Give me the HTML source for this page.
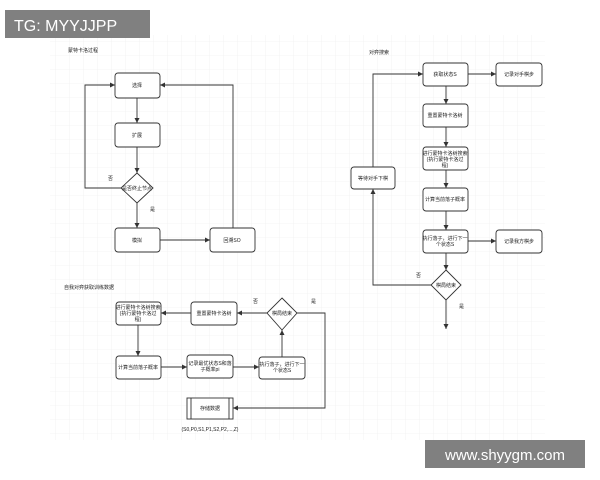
<!DOCTYPE html>
<html><head><meta charset="utf-8"><style>
html,body{margin:0;padding:0;background:#fff;width:600px;height:480px;overflow:hidden}
svg{position:absolute;left:0;top:0}
text{font-family:"Liberation Sans","Noto Sans CJK SC",sans-serif;font-size:5px;fill:#222}
.b{fill:#fff;stroke:#333;stroke-width:0.9}
.l{stroke:#333;stroke-width:0.9;fill:none}
</style></head><body>
<svg width="600" height="480" viewBox="0 0 600 480">
<defs>
<pattern id="g" width="14" height="14" patternUnits="userSpaceOnUse"><path d="M14 0V14H0" fill="none" stroke="#ececec" stroke-width="0.6"/></pattern>
<marker id="a" markerWidth="6" markerHeight="6" refX="5" refY="3" orient="auto" markerUnits="userSpaceOnUse"><path d="M0,0.5L5,3L0,5.5z" fill="#333"/></marker>
</defs>
<rect x="50" y="35" width="495" height="405" fill="url(#g)"/>
<!-- D1 -->
<text x="68" y="52">蒙特卡洛过程</text>
<rect class="b" x="115" y="73" width="45" height="25" rx="3"/><text x="137" y="87" text-anchor="middle">选择</text>
<rect class="b" x="115" y="123" width="45" height="24" rx="3"/><text x="137" y="137" text-anchor="middle">扩展</text>
<path class="b" d="M137,173L153,188L137,203L121,188z"/><text x="137" y="190" text-anchor="middle">是否终止节点</text>
<rect class="b" x="115" y="228" width="45" height="24" rx="3"/><text x="137" y="242" text-anchor="middle">模拟</text>
<rect class="b" x="210" y="228" width="45" height="24" rx="3"/><text x="232" y="242" text-anchor="middle">回溯SO</text>
<path class="l" marker-end="url(#a)" d="M137,98V123"/>
<path class="l" marker-end="url(#a)" d="M137,147V173"/>
<path class="l" marker-end="url(#a)" d="M137,203V228"/>
<path class="l" marker-end="url(#a)" d="M160,240H210"/>
<path class="l" marker-end="url(#a)" d="M121,188H85V85H115"/>
<path class="l" marker-end="url(#a)" d="M233,228V85H160"/>
<text x="108" y="180">否</text><text x="150" y="211">是</text>
<!-- D2 -->
<text x="369" y="54">对弈搜索</text>
<rect class="b" x="423" y="63" width="45" height="23" rx="3"/><text x="445" y="76" text-anchor="middle">获取状态S</text>
<rect class="b" x="496" y="63" width="46" height="23" rx="3"/><text x="519" y="76" text-anchor="middle">记录对手棋步</text>
<rect class="b" x="423" y="104" width="45" height="23" rx="3"/><text x="445" y="117" text-anchor="middle">重置蒙特卡洛树</text>
<rect class="b" x="423" y="147" width="45" height="23" rx="3"/><text x="445" y="155" text-anchor="middle">进行蒙特卡洛树搜索</text><text x="445" y="161" text-anchor="middle">(执行蒙特卡洛过</text><text x="445" y="167" text-anchor="middle">程)</text>
<rect class="b" x="423" y="188" width="45" height="23" rx="3"/><text x="445" y="201" text-anchor="middle">计算当前落子概率</text>
<rect class="b" x="423" y="230" width="45" height="23" rx="3"/><text x="445" y="240" text-anchor="middle">执行落子，进行下一</text><text x="445" y="246" text-anchor="middle">个状态S</text>
<rect class="b" x="496" y="230" width="46" height="23" rx="3"/><text x="519" y="243" text-anchor="middle">记录我方棋步</text>
<path class="b" d="M446,270L461,285L446,300L431,285z"/><text x="446" y="287" text-anchor="middle">棋局结束</text>
<rect class="b" x="351" y="167" width="44" height="22" rx="3"/><text x="373" y="180" text-anchor="middle">等待对手下棋</text>
<path class="l" marker-end="url(#a)" d="M468,74H496"/>
<path class="l" marker-end="url(#a)" d="M446,86V104"/>
<path class="l" marker-end="url(#a)" d="M446,127V147"/>
<path class="l" marker-end="url(#a)" d="M446,170V188"/>
<path class="l" marker-end="url(#a)" d="M446,211V230"/>
<path class="l" marker-end="url(#a)" d="M468,241H496"/>
<path class="l" marker-end="url(#a)" d="M446,253V270"/>
<path class="l" marker-end="url(#a)" d="M446,300V329"/>
<path class="l" marker-end="url(#a)" d="M431,285H373V189"/>
<path class="l" marker-end="url(#a)" d="M373,167V74H423"/>
<text x="416" y="277">否</text><text x="459" y="308">是</text>
<!-- D3 -->
<text x="64" y="289">自我对弈获取训练数据</text>
<path class="b" d="M282,298L297,313L282,330L267,313z"/><text x="282" y="315" text-anchor="middle">棋局结束</text>
<rect class="b" x="191" y="302" width="46" height="23" rx="3"/><text x="214" y="315" text-anchor="middle">重置蒙特卡洛树</text>
<rect class="b" x="116" y="302" width="45" height="23" rx="3"/><text x="138" y="309" text-anchor="middle">进行蒙特卡洛树搜索</text><text x="138" y="315" text-anchor="middle">(执行蒙特卡洛过</text><text x="138" y="321" text-anchor="middle">程)</text>
<rect class="b" x="116" y="356" width="45" height="23" rx="3"/><text x="138" y="369" text-anchor="middle">计算当前落子概率</text>
<rect class="b" x="187" y="355" width="46" height="23" rx="3"/><text x="210" y="365" text-anchor="middle">记录最优状态S和落</text><text x="210" y="371" text-anchor="middle">子概率pi</text>
<rect class="b" x="259" y="357" width="46" height="22" rx="3"/><text x="282" y="366" text-anchor="middle">执行落子，进行下一</text><text x="282" y="372" text-anchor="middle">个状态S</text>
<rect class="b" x="187" y="398" width="46" height="21"/><path class="l" d="M191,398V419M229,398V419"/><text x="210" y="410" text-anchor="middle">存储数据</text>
<text x="210" y="431" text-anchor="middle">(S0,P0,S1,P1,S2,P2,...,Z)</text>
<path class="l" marker-end="url(#a)" d="M267,313H237"/>
<path class="l" marker-end="url(#a)" d="M191,313H161"/>
<path class="l" marker-end="url(#a)" d="M138,325V356"/>
<path class="l" marker-end="url(#a)" d="M161,367H187"/>
<path class="l" marker-end="url(#a)" d="M233,367H259"/>
<path class="l" marker-end="url(#a)" d="M282,357V330"/>
<path class="l" marker-end="url(#a)" d="M297,313H325V408H233"/>
<text x="253" y="303">否</text><text x="311" y="303">是</text>
<!-- overlays -->
<rect x="5" y="10" width="145" height="28" fill="#808080"/>
<text x="14" y="31" style="font-size:16px;fill:#fff">TG: MYYJJPP</text>
<rect x="425" y="440" width="160" height="28" fill="#808080"/>
<text x="505" y="460" text-anchor="middle" style="font-size:15px;fill:#fff">www.shyygm.com</text>
</svg>
</body></html>
